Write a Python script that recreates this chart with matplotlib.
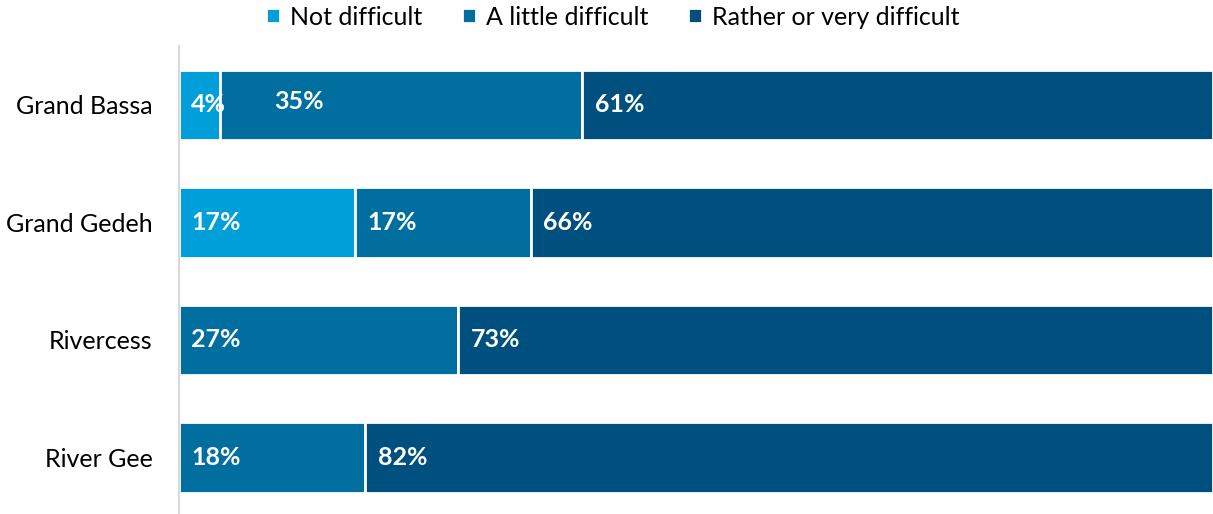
import numpy as np
import matplotlib
matplotlib.use("Agg")
import matplotlib.pyplot as plt

plt.rcParams["font.family"] = ["Lato", "DejaVu Sans"]

counties = ["Grand Bassa", "Grand Gedeh", "Rivercess", "River Gee"]
series = ["Not difficult", "A little difficult", "Rather or very difficult"]
not_difficult = [4, 17, 0, 0]
little_difficult = [35, 17, 27, 18]
very_difficult = [61, 66, 73, 82]
colors = ["#009FD9", "#006E9F", "#00507F"]

# label nudges (in % units) where text would collide with the bar edge
label_shift = {(0, 1): 4.0}

fig = plt.figure(figsize=(12.13, 5.14), dpi=100)
ax = fig.add_axes([179 / 1213, -2 / 514, 1 - 179 / 1213, 470 / 514])

y = np.arange(len(counties))
left = np.zeros(len(counties))
for s, (name, vals, c) in enumerate(zip(series, [not_difficult, little_difficult, very_difficult], colors)):
    vals = np.array(vals, dtype=float)
    ax.barh(y, vals, left=left, height=0.6, color=c, edgecolor="white",
            linewidth=2, label=name)
    for i, v in enumerate(vals):
        if v <= 0:
            continue
        dx = label_shift.get((i, s), 0.0)
        dy = -0.03 if dx else 0.0
        ax.text(left[i] + 1.2 + dx, y[i] + dy, f"{v:.0f}%", color="white",
                fontsize=18, fontweight="bold", va="center", ha="left")
    left += vals

ax.set_xlim(0, 100)
ax.set_ylim(3.5, -0.5)
ax.set_yticks(y)
ax.set_yticklabels(counties, fontsize=18)
ax.tick_params(axis="y", length=0, pad=19)
ax.set_xticks([])
for sp in ["top", "right", "bottom"]:
    ax.spines[sp].set_visible(False)
ax.spines["left"].set_color("#D9D9D9")
ax.spines["left"].set_linewidth(1.5)

fig.legend(loc="upper center", bbox_to_anchor=(0.505, 1.033), ncol=3, frameon=False,
           fontsize=18, handlelength=0.55, handleheight=0.55, handletextpad=0.4,
           columnspacing=1.6)

fig.savefig("out.png", dpi=100)
